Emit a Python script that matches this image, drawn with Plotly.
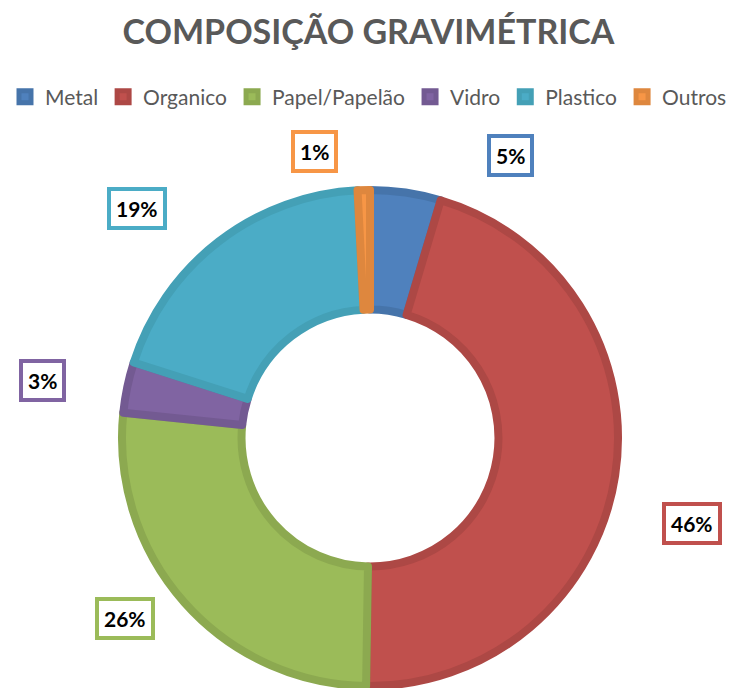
import plotly.graph_objects as go

categories = ["Metal", "Organico", "Papel/Papelão", "Vidro", "Plastico", "Outros"]
values = [4.6, 45.7, 26.4, 3.3, 19.3, 0.8]

fill_colors = ["#4F81BD", "#C0504D", "#9BBB59", "#8064A2", "#4BACC6", "#F79646"]
edge_colors = ["#4674AA", "#AD4845", "#8CA950", "#735A92", "#44A0B6", "#DE873E"]

W, H = 737, 688
# label box centres in pixels (layout only)
label_px = [(511, 155), (692, 523), (125, 618), (42, 380), (137, 208), (314, 152)]

total = sum(values)
pct_text = [f"{round(v / total * 100):.0f}%" for v in values]

cx, cy, R = 370, 438, 248
fig = go.Figure(go.Pie(
    labels=categories,
    values=values,
    sort=False,
    direction="clockwise",
    rotation=0,
    hole=0.518,
    textinfo="none",
    hoverinfo="label+percent",
    marker=dict(colors=fill_colors, line=dict(color=edge_colors, width=8)),
    domain=dict(x=[(cx - R) / W, (cx + R) / W], y=[(H - cy - R) / H, (H - cy + R) / H]),
))

annotations = []
for (px, py), txt, col in zip(label_px, pct_text, fill_colors):
    annotations.append(dict(
        x=px / W, y=1 - py / H, xref="paper", yref="paper",
        text=f"<b>{txt}</b>", showarrow=False,
        font=dict(family="Lato, Open Sans, sans-serif", size=21, color="#000000"),
        bgcolor="#FFFFFF", bordercolor=col, borderwidth=4, borderpad=5,
        xanchor="center", yanchor="middle",
    ))

fig.update_layout(
    width=W, height=H,
    margin=dict(l=0, r=0, t=0, b=0),
    paper_bgcolor="#FFFFFF",
    plot_bgcolor="#FFFFFF",
    title=dict(text="<b>COMPOSIÇÃO GRAVIMÉTRICA</b>", x=0.5, xanchor="center",
               y=1 - 32 / H, yanchor="middle",
               font=dict(family="Lato, Open Sans, sans-serif", size=34, color="#595959")),
    showlegend=True,
    legend=dict(orientation="h", x=0.5, xanchor="center", y=1 - 97 / H, yanchor="middle",
                font=dict(family="Lato, Open Sans, sans-serif", size=21, color="#595959"),
                itemwidth=30, traceorder="normal"),
    annotations=annotations,
)

fig.write_html("out.html", config={"displayModeBar": False},
               post_script="document.body.style.margin='0';")
